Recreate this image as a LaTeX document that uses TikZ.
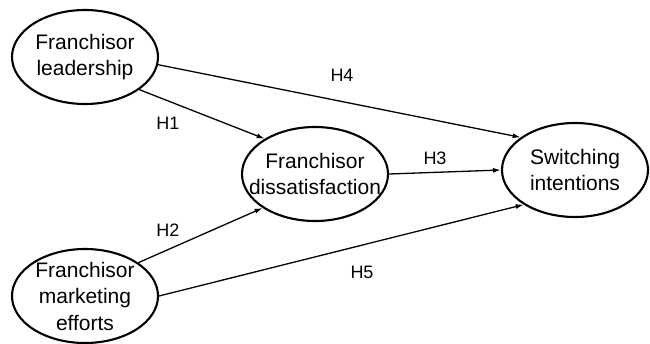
\documentclass[tikz,border=0pt]{standalone}
\usepackage{fontspec}
\setmainfont{Liberation Sans}
\usepackage{tikz}
\usetikzlibrary{shapes.geometric, arrows.meta, positioning}

\begin{document}
\begin{tikzpicture}[x=1pt, y=-1pt,
    construct/.style={ellipse, draw=black, line width=2.1pt, fill=white, minimum width=146pt, minimum height=94pt, inner sep=0pt,
        label={[align=center, font=\fontsize{21}{26.5}\selectfont]center:#1}},
    path/.style={-{Latex[length=8pt, width=5pt]}, line width=1.3pt},
    hyp/.style={font=\fontsize{18}{20}\selectfont}
]
\useasboundingbox (0,0) rectangle (650,343);
\node[construct={Franchisor\\leadership}] (lead) at (85,57) {};
\node[construct={Franchisor\\marketing\\efforts}] (mkt) at (85,296) {};
\node[construct={Franchisor\\dissatisfaction}] (dis) at (315,174) {};
\node[construct={Switching\\intentions}] (switch) at (575,170) {};
\draw[path] (lead.-6) -- (switch.149);
\draw[path] (lead.-31) -- (dis.145);
\draw[path] (mkt.32) -- (dis.213);
\draw[path] (mkt.east) -- (switch.214);
\draw[path] (dis.east) -- (switch.west);
\node[hyp] (h4) at (342,75) {H4};
\node[hyp] (h1) at (168,123) {H1};
\node[hyp] (h3) at (435,158) {H3};
\node[hyp] (h2) at (168,230) {H2};
\node[hyp] (h5) at (362,272) {H5};
\end{tikzpicture}
\end{document}
